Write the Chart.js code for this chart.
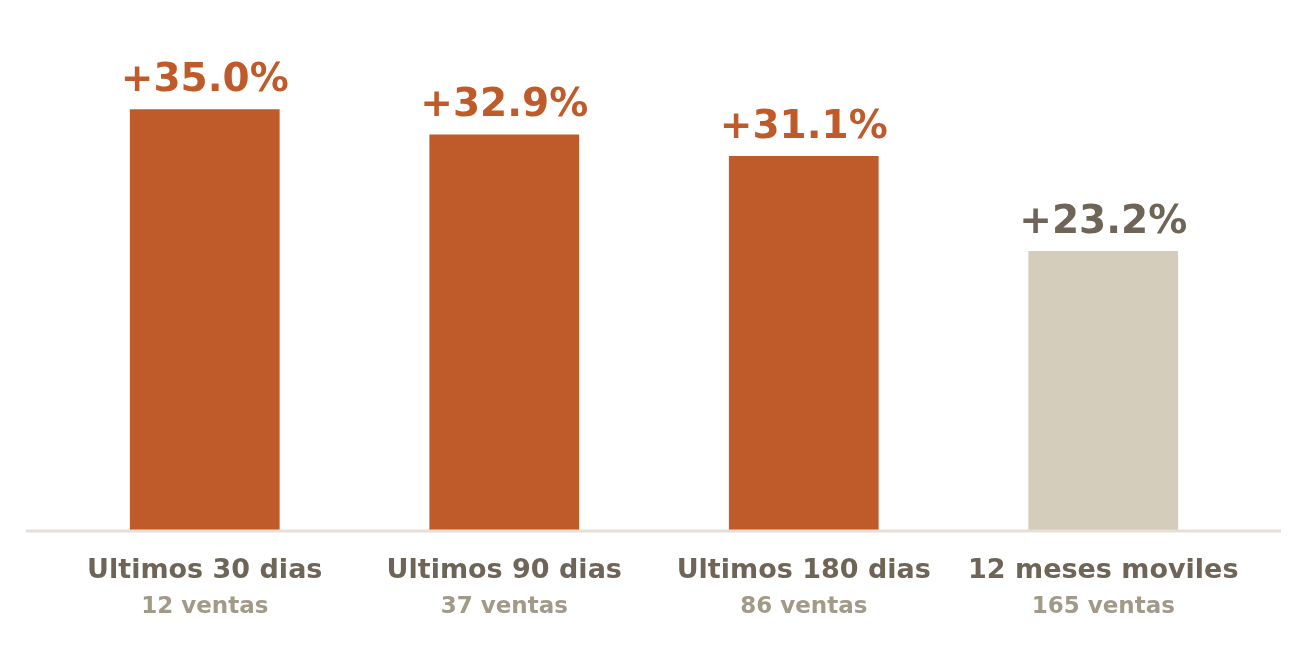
<!DOCTYPE html>
<html>
<head>
<meta charset="utf-8">
<script src="https://cdn.jsdelivr.net/npm/chart.js@4"></script>
<style>
  html, body { margin: 0; padding: 0; background: #fff; }
  #wrap { width: 1307px; height: 664px; }
</style>
</head>
<body>
<div id="wrap"><canvas id="chart"></canvas></div>
<script>
const categories = ['Ultimos 30 dias', 'Ultimos 90 dias', 'Ultimos 180 dias', '12 meses moviles'];
const ventas = ['12 ventas', '37 ventas', '86 ventas', '165 ventas'];
const values = [35.0, 32.9, 31.1, 23.2];
const barColors = ['#BF5B2A', '#BF5B2A', '#BF5B2A', '#D5CDBB'];
const labelColors = ['#BF5B2A', '#BF5B2A', '#BF5B2A', '#6E6457'];

const FONT = '"DejaVu Sans", sans-serif';

const labelsPlugin = {
  id: 'labels',
  afterDraw(chart) {
    const ctx = chart.ctx;
    const x = chart.scales.x, y = chart.scales.y;
    const y0 = y.getPixelForValue(0);
    ctx.save();
    // base line
    ctx.strokeStyle = '#E5DFD5';
    ctx.lineWidth = 3;
    ctx.beginPath();
    ctx.moveTo(26, y0 + 1);
    ctx.lineTo(1281, y0 + 1);
    ctx.stroke();
    ctx.textAlign = 'center';
    values.forEach((v, i) => {
      const px = x.getPixelForValue(i);
      const py = y.getPixelForValue(v);
      ctx.fillStyle = labelColors[i];
      ctx.font = 'bold 39px ' + FONT;
      ctx.textBaseline = 'alphabetic';
      ctx.fillText('+' + v.toFixed(1) + '%', px, py - 18);
      ctx.fillStyle = '#6E6457';
      ctx.font = 'bold 27px ' + FONT;
      ctx.fillText(categories[i], px, y0 + 48);
      ctx.fillStyle = '#A29A89';
      ctx.font = 'bold 23px ' + FONT;
      ctx.fillText(ventas[i], px, y0 + 83);
    });
    ctx.restore();
  }
};

new Chart(document.getElementById('chart'), {
  type: 'bar',
  data: {
    labels: categories,
    datasets: [{
      data: values,
      backgroundColor: barColors,
      barPercentage: 0.5,
      categoryPercentage: 1.0
    }]
  },
  options: {
    responsive: true,
    maintainAspectRatio: false,
    animation: false,
    layout: { padding: { top: 49, bottom: 134, left: 55, right: 54 } },
    plugins: { legend: { display: false }, tooltip: { enabled: false } },
    scales: {
      x: { display: false },
      y: { display: false, min: 0, max: 40 }
    }
  },
  plugins: [labelsPlugin]
});
</script>
</body>
</html>
